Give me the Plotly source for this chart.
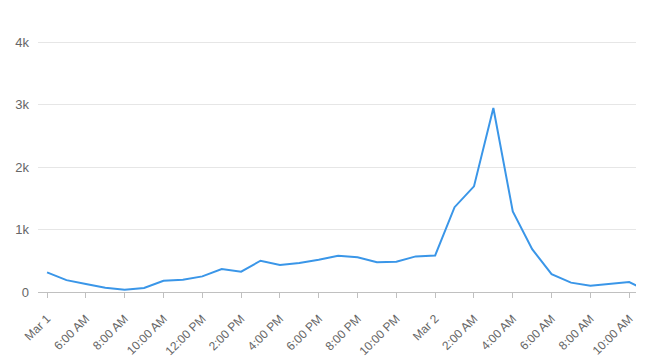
import pandas as pd
import plotly.graph_objects as go

times = list(pd.date_range("2024-03-01 04:00", "2024-03-02 11:00", freq="h"))
values = [314, 190, 128, 69, 37, 64, 181, 197, 250, 368, 325, 500, 432, 464, 515,
          580, 555, 475, 485, 570, 585, 1357, 1690, 2944, 1290, 685, 285, 150, 102,
          130, 160, 5]

tick_times = ["2024-03-01 04:00", "2024-03-01 06:00", "2024-03-01 08:00", "2024-03-01 10:00",
              "2024-03-01 12:00", "2024-03-01 14:00", "2024-03-01 16:00", "2024-03-01 18:00",
              "2024-03-01 20:00", "2024-03-01 22:00", "2024-03-02 00:00", "2024-03-02 02:00",
              "2024-03-02 04:00", "2024-03-02 06:00", "2024-03-02 08:00", "2024-03-02 10:00"]
tick_labels = ["Mar 1", "6:00 AM", "8:00 AM", "10:00 AM", "12:00 PM", "2:00 PM", "4:00 PM",
               "6:00 PM", "8:00 PM", "10:00 PM", "Mar 2", "2:00 AM", "4:00 AM", "6:00 AM",
               "8:00 AM", "10:00 AM"]
y_ticks = [0, 1000, 2000, 3000, 4000]
y_labels = ["0", "1k", "2k", "3k", "4k"]

fig = go.Figure(go.Scatter(x=times, y=values, mode="lines",
                           line=dict(color="#3a96e8", width=2), hoverinfo="skip"))

fig.update_layout(
    width=645, height=362,
    margin=dict(l=38, r=9, t=40, b=70),
    paper_bgcolor="white", plot_bgcolor="white",
    showlegend=False,
    font=dict(family="Liberation Sans, Arial, sans-serif", size=12, color="#666666"),
    xaxis=dict(
        type="date", automargin=False,
        range=["2024-03-01 03:32", "2024-03-02 10:21"],
        tickvals=tick_times, ticktext=tick_labels, tickangle=-45,
        ticks="outside", ticklen=5, tickcolor="#c0c0c0",
        showline=True, linecolor="#c0c0c0", linewidth=1,
        showgrid=False, zeroline=False, ticklabelstandoff=9,
        tickfont=dict(size=12),
    ),
    yaxis=dict(
        range=[0, 4032], tickvals=y_ticks, ticktext=y_labels, automargin=False,
        showgrid=True, gridcolor="#e6e6e6", gridwidth=1,
        zeroline=False, showline=False, ticks="", ticklabelstandoff=8,
        tickfont=dict(size=13),
    ),
)

fig.write_html("out.html")
